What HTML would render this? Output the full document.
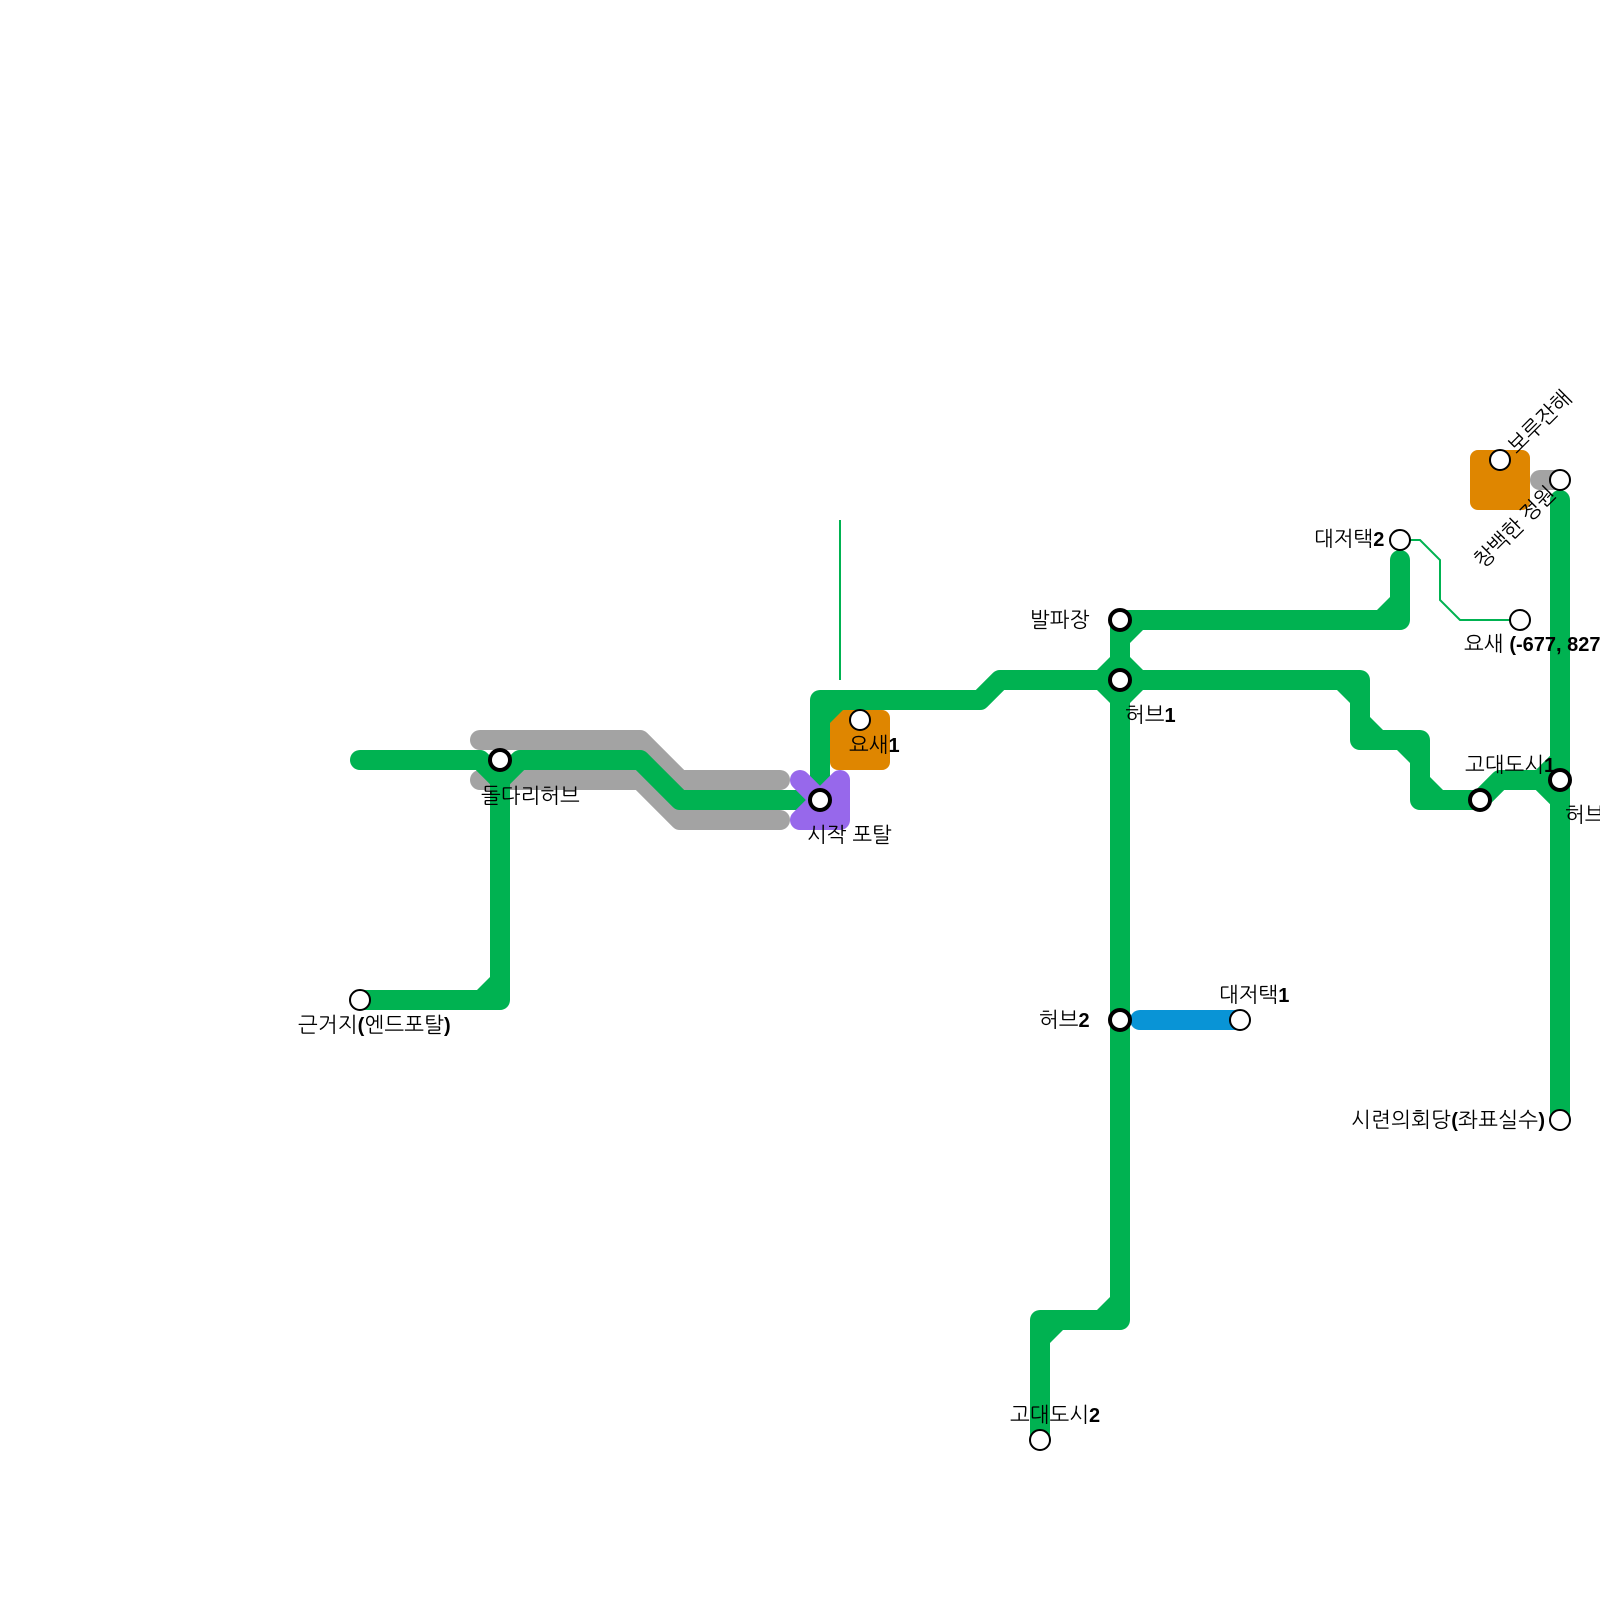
<!DOCTYPE html>
<html><head><meta charset="utf-8">
<style>
html,body{margin:0;padding:0;background:#fff}
svg{display:block}
text{font-family:"Liberation Sans","NanumGothic","Noto Sans CJK KR",sans-serif;font-size:21px;fill:#000}
.b{font-weight:bold;font-size:20px}
</style></head>
<body>
<svg xmlns="http://www.w3.org/2000/svg" width="1600" height="1600" viewBox="0 0 1600 1600">
<rect x="830" y="710" width="60" height="60" rx="8" fill="#df8600"/>
<rect x="1470" y="450" width="60" height="60" rx="8" fill="#df8600"/>
<g fill="none" stroke="#a3a3a3" stroke-width="20" stroke-linecap="round" stroke-linejoin="round">
<path d="M480,740H640L680,780H780"/>
<path d="M480,780H640L680,820H780"/>
<path d="M1540,480H1560"/>
</g>
<g fill="none" stroke="#00b251" stroke-width="2">
<path d="M840,520V680"/>
<path d="M1400,540H1420L1440,560V600L1460,620H1520"/>
</g>
<g fill="none" stroke="#00b251" stroke-width="20" stroke-linecap="round" stroke-linejoin="round">
<path d="M360,760H480L500,780V1000H360"/>
<path d="M820,800H680L640,760H520L500,780"/>
<path d="M820,800V700H980L1000,680H1360V740H1420V800H1480L1500,780H1540L1560,800"/>
<path d="M1540,780L1560,760"/>
<path d="M1400,560V620H1120V1320H1040V1440"/>
<path d="M1560,500V1120"/>
</g>
<g fill="#00b251">
<polygon points="490,990 477,990 490,977"/>
<polygon points="830,710 843,710 830,723"/>
<polygon points="1110,670 1110,657 1097,670"/>
<polygon points="1130,670 1130,657 1143,670"/>
<polygon points="1110,690 1097,690 1110,703"/>
<polygon points="1130,690 1143,690 1130,703"/>
<polygon points="1130,630 1143,630 1130,643"/>
<polygon points="1390,610 1377,610 1390,597"/>
<polygon points="1110,1310 1097,1310 1110,1297"/>
<polygon points="1050,1330 1063,1330 1050,1343"/>
<polygon points="1350,690 1337,690 1350,703"/>
<polygon points="1370,730 1370,717 1383,730"/>
<polygon points="1410,750 1397,750 1410,763"/>
<polygon points="1430,790 1430,777 1443,790"/>
</g>
<path d="M1140,1020H1240" fill="none" stroke="#0994d6" stroke-width="20" stroke-linecap="round"/>
<polygon points="800,780 820,800 840,780 840,820 800,820 820,800" fill="#9768eb" stroke="#9768eb" stroke-width="20" stroke-linejoin="round"/>
<g fill="#fff" stroke="#000" stroke-width="2">
<circle cx="360" cy="1000" r="10"/>
<circle cx="860" cy="720" r="10"/>
<circle cx="1240" cy="1020" r="10"/>
<circle cx="1040" cy="1440" r="10"/>
<circle cx="1400" cy="540" r="10"/>
<circle cx="1520" cy="620" r="10"/>
<circle cx="1500" cy="460" r="10"/>
<circle cx="1560" cy="480" r="10"/>
<circle cx="1560" cy="1120" r="10"/>
</g>
<g fill="#fff" stroke="#000" stroke-width="4">
<circle cx="500" cy="760" r="10"/>
<circle cx="820" cy="800" r="10"/>
<circle cx="1120" cy="620" r="10"/>
<circle cx="1120" cy="680" r="10"/>
<circle cx="1120" cy="1020" r="10"/>
<circle cx="1480" cy="800" r="10"/>
<circle cx="1560" cy="780" r="10"/>
</g>
<text x="481" y="803">돌다리허브</text>
<text x="807" y="842">시작 포탈</text>
<text x="849" y="752">요새<tspan class="b">1</tspan></text>
<text x="1314" y="546">대저택<tspan class="b">2</tspan></text>
<text x="1464" y="651">요새 <tspan class="b">(-677, 827)</tspan></text>
<text x="1465" y="772">고대도시<tspan class="b">1</tspan></text>
<text x="1565" y="822">허브<tspan class="b">3</tspan></text>
<text x="1030" y="627">발파장</text>
<text x="1125" y="722">허브<tspan class="b">1</tspan></text>
<text x="1039" y="1027">허브<tspan class="b">2</tspan></text>
<text x="1219" y="1002">대저택<tspan class="b">1</tspan></text>
<text x="1010" y="1422">고대도시<tspan class="b">2</tspan></text>
<text x="298" y="1032" letter-spacing="0.15">근거지<tspan class="b">(</tspan>엔드포탈<tspan class="b">)</tspan></text>
<text x="1351" y="1127" letter-spacing="0.3">시련의회당<tspan class="b">(</tspan>좌표실수<tspan class="b">)</tspan></text>
<text transform="translate(1517,455) rotate(-45)">보루잔해</text>
<text transform="translate(1483,569) rotate(-45)">창백한 정원</text>
</svg>
</body></html>
